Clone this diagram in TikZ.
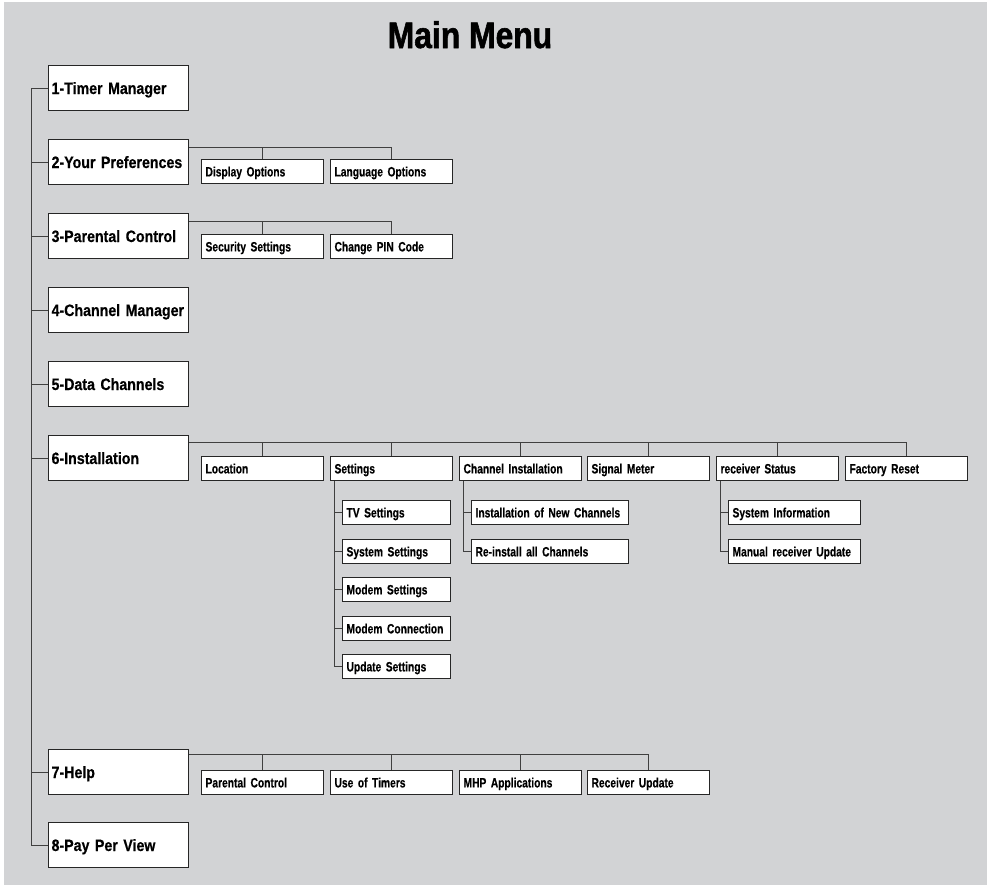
\documentclass[tikz,border=0pt]{standalone}
\usepackage{fontspec}
\setmainfont{Liberation Sans}
\newfontfamily\titlefont{Liberation Sans}[FakeStretch=0.86,FakeBold=1.5]
\newfontfamily\menufont{Liberation Sans}[FakeStretch=0.86,WordSpace=0.65,FakeBold=0.5]
\newfontfamily\itemfont{Liberation Sans}[FakeStretch=0.76,WordSpace=0.65,FakeBold=0.4]
\definecolor{panelgray}{RGB}{210,211,213}
\tikzset{
	mainbox/.style={draw=black!85, line width=1.2pt, fill=white, anchor=north west, inner xsep=3pt, text width=134pt, align=left, minimum height=45pt, text height=11.8pt, text depth=0pt, font=\menufont\bfseries\fontsize{16.5}{18}\selectfont, execute at begin node=\hbox\bgroup, execute at end node=\egroup},
	subbox/.style={draw=black!85, line width=1.1pt, fill=white, anchor=north west, inner xsep=4pt, text width=#1, align=left, minimum height=24pt, text height=9.7pt, text depth=0pt, font=\itemfont\bfseries\fontsize{13.5}{15}\selectfont, execute at begin node=\hbox\bgroup, execute at end node=\egroup},
	subbox/.default=114pt,
	link/.style={draw=black!75, line width=0.9pt}
}

\begin{document}
\begin{tikzpicture}[x=1pt, y=-1pt]
		%%%%% START %%%%%
		
		\useasboundingbox (0, 0) rectangle (987, 886);
		\fill[panelgray] (4, 2) rectangle (987, 885);
		
		\node[font=\titlefont\bfseries\fontsize{37}{40}\selectfont, anchor=base] (title) at (470, 48) {Main Menu};
		
		% main entries
		\node[mainbox] (timer) at (48, 65) {1-Timer Manager};
		\node[mainbox] (prefs) at (48, 139) {2-Your Preferences};
		\node[mainbox] (parental) at (48, 213) {3-Parental Control};
		\node[mainbox] (chanmgr) at (48, 287) {4-Channel Manager};
		\node[mainbox] (datach) at (48, 361) {5-Data Channels};
		\node[mainbox] (install) at (48, 435) {6-Installation};
		\node[mainbox] (help) at (48, 749) {7-Help};
		\node[mainbox] (ppv) at (48, 822) {8-Pay Per View};
		
		\coordinate (spine) at (31, 0);
		\draw[link] (timer.west) -- (timer.west -| spine) -- (ppv.west -| spine) -- (ppv.west);
		\draw[link] (prefs.west) -- (prefs.west -| spine);
		\draw[link] (parental.west) -- (parental.west -| spine);
		\draw[link] (chanmgr.west) -- (chanmgr.west -| spine);
		\draw[link] (datach.west) -- (datach.west -| spine);
		\draw[link] (install.west) -- (install.west -| spine);
		\draw[link] (help.west) -- (help.west -| spine);
		
		% preferences
		\node[subbox] (dispopt) at (201, 159) {Display Options};
		\node[subbox] (langopt) at (330, 159) {Language Options};
		\draw[link] ([yshift=-8pt]prefs.north east) -| (dispopt.north);
		\draw[link] ([yshift=-8pt]prefs.north east) -| (langopt.north);
		
		% parental control
		\node[subbox] (security) at (201, 234) {Security Settings};
		\node[subbox] (pincode) at (330, 234) {Change PIN Code};
		\draw[link] ([yshift=-8pt]parental.north east) -| (security.north);
		\draw[link] ([yshift=-8pt]parental.north east) -| (pincode.north);
		
		% installation
		\node[subbox] (location) at (201, 456) {Location};
		\node[subbox] (settings) at (330, 456) {Settings};
		\node[subbox] (chinst) at (459, 456) {Channel Installation};
		\node[subbox] (signal) at (587, 456) {Signal Meter};
		\node[subbox] (rxstatus) at (716, 456) {receiver Status};
		\node[subbox] (factory) at (845, 456) {Factory Reset};
		\draw[link] ([yshift=-7pt]install.north east) -| (location.north);
		\draw[link] ([yshift=-7pt]install.north east) -| (settings.north);
		\draw[link] ([yshift=-7pt]install.north east) -| (chinst.north);
		\draw[link] ([yshift=-7pt]install.north east) -| (signal.north);
		\draw[link] ([yshift=-7pt]install.north east) -| (rxstatus.north);
		\draw[link] ([yshift=-7pt]install.north east) -| (factory.north);
		
		\node[subbox=100pt] (tvset) at (342, 500) {TV Settings};
		\node[subbox=100pt] (sysset) at (342, 539) {System Settings};
		\node[subbox=100pt] (modemset) at (342, 577) {Modem Settings};
		\node[subbox=100pt] (modemconn) at (342, 616) {Modem Connection};
		\node[subbox=100pt] (updset) at (342, 654) {Update Settings};
		\draw[link] ([xshift=4pt]settings.south west) |- (tvset.west);
		\draw[link] ([xshift=4pt]settings.south west) |- (sysset.west);
		\draw[link] ([xshift=4pt]settings.south west) |- (modemset.west);
		\draw[link] ([xshift=4pt]settings.south west) |- (modemconn.west);
		\draw[link] ([xshift=4pt]settings.south west) |- (updset.west);
		
		\node[subbox=149pt] (newch) at (471, 500) {Installation of New Channels};
		\node[subbox=149pt] (reinst) at (471, 539) {Re-install all Channels};
		\draw[link] ([xshift=4pt]chinst.south west) |- (newch.west);
		\draw[link] ([xshift=4pt]chinst.south west) |- (reinst.west);
		
		\node[subbox=124pt] (sysinfo) at (728, 500) {System Information};
		\node[subbox=124pt] (manupd) at (728, 539) {Manual receiver Update};
		\draw[link] ([xshift=4pt]rxstatus.south west) |- (sysinfo.west);
		\draw[link] ([xshift=4pt]rxstatus.south west) |- (manupd.west);
		
		% help
		\node[subbox] (hparental) at (201, 770) {Parental Control};
		\node[subbox] (htimers) at (330, 770) {Use of Timers};
		\node[subbox] (hmhp) at (459, 770) {MHP Applications};
		\node[subbox] (hrecv) at (587, 770) {Receiver Update};
		\draw[link] ([yshift=-5pt]help.north east) -| (hparental.north);
		\draw[link] ([yshift=-5pt]help.north east) -| (htimers.north);
		\draw[link] ([yshift=-5pt]help.north east) -| (hmhp.north);
		\draw[link] ([yshift=-5pt]help.north east) -| (hrecv.north);
		
		%%%%% END %%%%%
\end{tikzpicture}
\end{document}
